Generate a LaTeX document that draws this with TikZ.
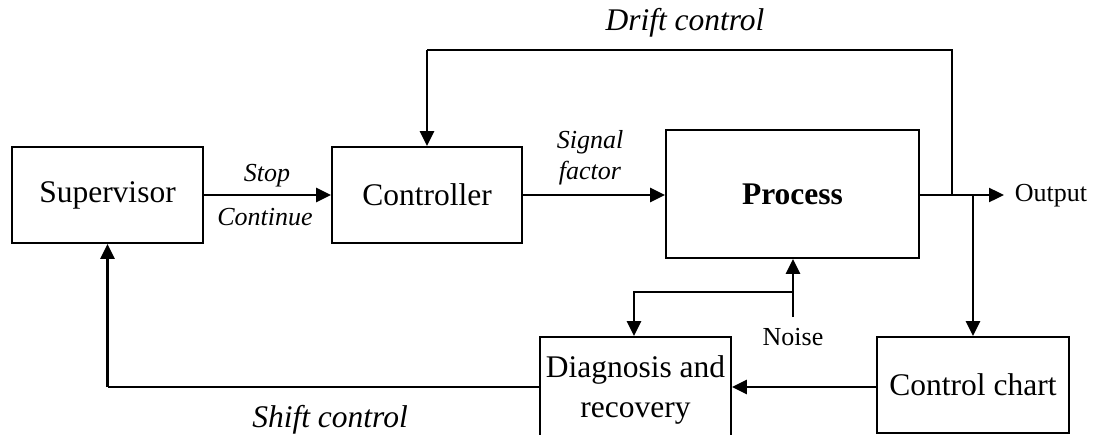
\documentclass[tikz,border=0pt]{standalone}
\usepackage{fontspec}
\setmainfont{Liberation Serif}
\usetikzlibrary{arrows.meta}
\tikzset{
  blk/.style={draw, line width=1.8pt, inner sep=0pt, align=center, font=\fontsize{31.5}{40}\selectfont},
  lbl/.style={inner sep=0pt, align=center, font=\fontsize{26}{31}\selectfont\itshape},
  biglbl/.style={inner sep=0pt, font=\fontsize{31.5}{38}\selectfont\itshape},
  plain/.style={inner sep=0pt, font=\fontsize{26}{31}\selectfont},
  thk/.style={line width=2.4pt, -{Triangle[length=15pt,width=14pt]}},
  thkline/.style={line width=2.4pt},
  thn/.style={line width=1.3pt}
}
\begin{document}
\begin{tikzpicture}[x=1pt,y=-1pt]
\useasboundingbox (0,0) rectangle (1093,434);
\clip (0,0) rectangle (1093,434);
% boxes
\node[blk, minimum width=191pt, minimum height=96pt] (sup) at (107.5,195) {Supervisor};
\node[blk, minimum width=190pt, minimum height=96pt] (ctrl) at (427,195) {Controller};
\node[blk, minimum width=253pt, minimum height=128pt] (proc) at (792.5,194) {\bfseries Process};
\node[blk, minimum width=192pt, minimum height=96pt] (chart) at (973,385) {Control chart};
\node[blk, minimum width=191pt, minimum height=106pt] (diag) at (635.5,390) {Diagnosis and\\recovery};
% labels
\node[plain] (out) at (1051,196) {Output};
\node[plain] (noise) at (793,337) {Noise};
\node[lbl] (stop) at (267,176) {Stop};
\node[lbl] (cont) at (265,217) {Continue};
\node[lbl] (sig) at (590,158) {Signal\\factor};
\node[biglbl] (drift) at (685,23) {Drift control};
\node[biglbl] (shift) at (330,420) {Shift control};
% coordinates
\coordinate (d1) at (952,195);
\coordinate (d3) at (427,50);
\coordinate (b1) at (973,195);
\coordinate (nb) at (793,292);
\coordinate (ntop) at (793,317);
\coordinate (s1) at (107.5,387);
\coordinate (oe) at (1004,195);
% connectors
\draw[thk] (sup.east) -- (ctrl.west);
\draw[thk] (ctrl.east) -- (ctrl.east -| proc.west);
\draw[thk] (proc.east |- oe) -- (oe);
\draw[thn] (d1) |- (d3);
\draw[thk] (d3) -- (ctrl.north);
\draw[thk] (b1) -- (chart.north);
\draw[thk] (chart.west |- 0,387) -- (diag.east |- 0,387);
\draw[thk] (ntop) -- (ntop |- proc.south);
\draw[thk] (nb) -| (diag.north -| 634,0);
\draw[thn] (diag.west |- s1) -- (s1);
\draw[thk] (s1) -- (sup.south);
\end{tikzpicture}
\end{document}
